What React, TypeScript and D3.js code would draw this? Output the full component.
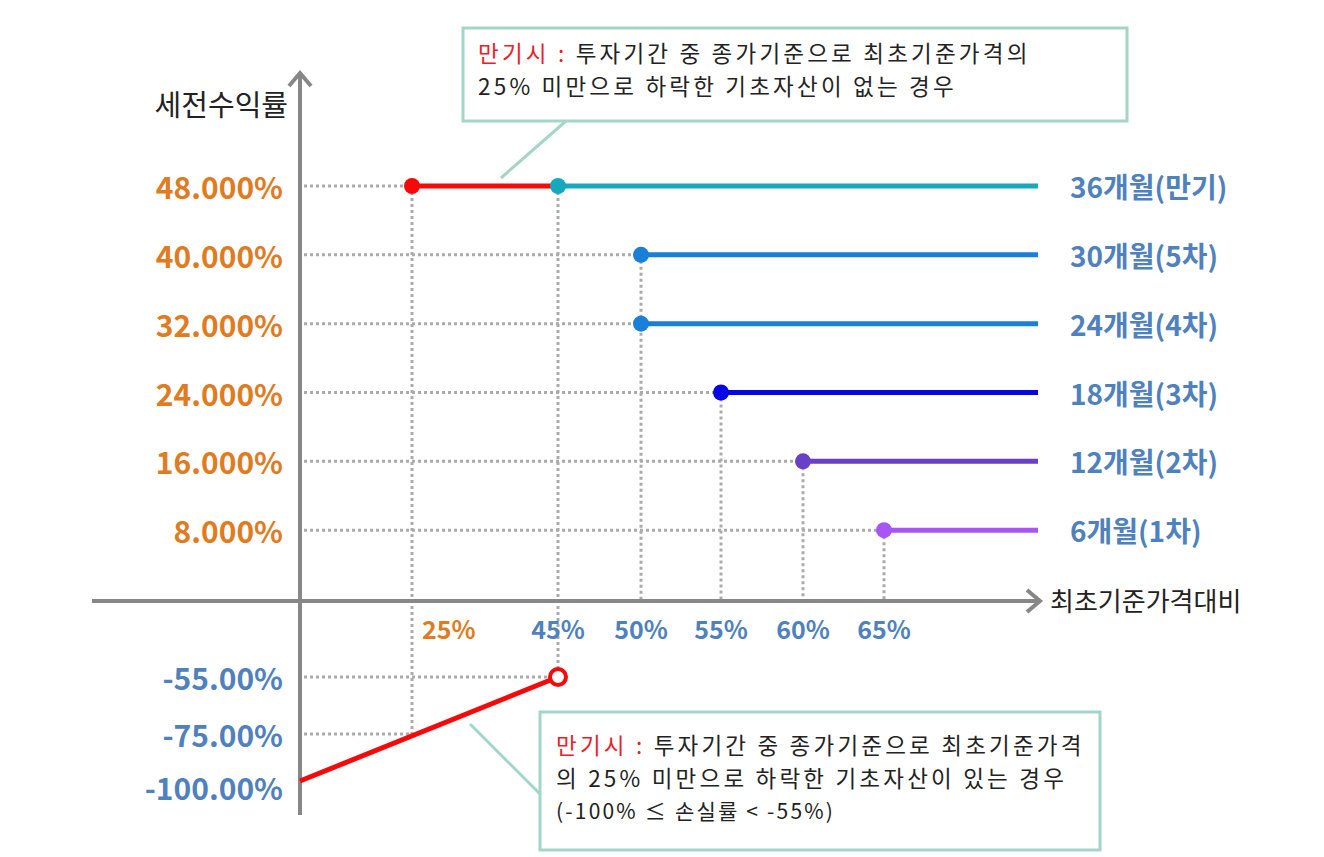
import { scaleLinear, line as d3_line } from "d3";

// redemption schedule (percent of initial reference price / pre-tax return)
const labels = ["6개월(1차)", "12개월(2차)", "18개월(3차)", "24개월(4차)", "30개월(5차)", "36개월(만기)"];
const barriers = [65, 60, 55, 50, 50, 45];
const returns = [8, 16, 24, 32, 40, 48];
const colors = ["#a855f7", "#6a3fc8", "#0505e6", "#1a7fd8", "#1a7fd8", "#16a9bd"];

const xTicks = [25, 45, 50, 55, 60, 65];
const negTicks = [-55, -75, -100];
const kiBarrier = 25;
const lossLine: [number, number][] = [
  [0, -100],
  [45, -55],
];
const lineEnd = 75;

const topNote = ["투자기간 중 종가기준으로 최초기준가격의", "25% 미만으로 하락한 기초자산이 없는 경우"];
const bottomNote = ["투자기간 중 종가기준으로 최초기준가격", "의 25% 미만으로 하락한 기초자산이 있는 경우", "(-100% ≤ 손실률 < -55%)"];

const FONT = "'Noto Sans CJK KR', 'Noto Sans', sans-serif";
const ORANGE = "#e07b22";
const BLUE = "#4f81bd";
const GRID = "#ababab";
const AXIS = "#878787";
const MINT = "#a3d6c8";
const RED = "#f50a0a";

export default function App() {
  // schematic (non-uniform) spacing, as in the source diagram
  const x = scaleLinear()
    .domain([0, 25, 45, 50, 55, 60, 65, 75])
    .range([300, 412, 558, 641, 721, 803, 884, 1038]);
  const y = scaleLinear()
    .domain([-100, -75, -55, 0, 48])
    .range([781, 734, 677, 599, 186]);

  const x0 = x(0);
  const y0 = y(0);
  const loss = d3_line<[number, number]>()
    .x((d) => x(d[0]))
    .y((d) => y(d[1]))(lossLine);

  const dot = { stroke: GRID, strokeWidth: 3, strokeDasharray: "3,3" };

  return (
    <svg
      width={1324}
      height={857}
      style={{ position: "absolute", left: 0, top: 0, background: "#fff" }}
      fontFamily={FONT}
    >
      {/* dotted guides */}
      <g>
        {returns.map((r, i) => (
          <line key={"h" + i} x1={x0 + 4} x2={x(i === 5 ? kiBarrier : barriers[i])} y1={y(r)} y2={y(r)} {...dot} />
        ))}
        {returns.map((r, i) =>
          i === 5 || i === 3 ? null : (
            <line key={"v" + i} x1={x(barriers[i])} x2={x(barriers[i])} y1={y(r)} y2={y0} {...dot} />
          )
        )}
        <line x1={x(kiBarrier)} x2={x(kiBarrier)} y1={y(48)} y2={y(-75)} {...dot} />
        <line x1={x(45)} x2={x(45)} y1={y(48)} y2={y(-55)} {...dot} />
        <line x1={x0 + 4} x2={x(45)} y1={y(-55)} y2={y(-55)} {...dot} />
        <line x1={x0 + 4} x2={x(kiBarrier)} y1={y(-75)} y2={y(-75)} {...dot} />
      </g>

      {/* axes */}
      <g stroke={AXIS} strokeWidth={4} fill="none">
        <line x1={x0} x2={x0} y1={815} y2={72} />
        <polyline points={`${x0 - 11},${86} ${x0},${73} ${x0 + 11},${86}`} />
        <line x1={92} x2={1040} y1={y0 + 2} y2={y0 + 2} />
        <polyline points={`${1027},${y0 - 9} ${1040},${y0 + 2} ${1027},${y0 + 13}`} />
      </g>

      {/* axis titles */}
      <text x={288} y={103} textAnchor="end" dominantBaseline="central" fontSize={29} fill="#222">
        세전수익률
      </text>
      <text x={1050} y={y0} textAnchor="start" dominantBaseline="central" fontSize={26} fill="#222">
        최초기준가격대비
      </text>

      {/* payoff lines */}
      <line x1={x(kiBarrier)} x2={x(45)} y1={y(48)} y2={y(48)} stroke={RED} strokeWidth={5} />
      {returns.map((r, i) => (
        <line key={"l" + i} x1={x(barriers[i])} x2={x(lineEnd)} y1={y(r)} y2={y(r)} stroke={colors[i]} strokeWidth={5} />
      ))}
      <circle cx={x(kiBarrier)} cy={y(48)} r={8} fill={RED} />
      {returns.map((r, i) => (
        <circle key={"c" + i} cx={x(barriers[i])} cy={y(r)} r={8} fill={colors[i]} />
      ))}
      <path d={loss ?? ""} stroke={RED} strokeWidth={5} fill="none" />
      <circle cx={x(45)} cy={y(-55)} r={8} fill="#fff" stroke={RED} strokeWidth={4} />

      {/* y tick labels */}
      {returns.map((r) => (
        <text key={"yt" + r} x={283} y={y(r)} textAnchor="end" dominantBaseline="central" fontSize={30} fontWeight={700} fill={ORANGE}>
          {r.toFixed(3)}%
        </text>
      ))}
      {negTicks.map((r) => (
        <text key={"yn" + r} x={283} y={y(r) + (r === -100 ? 6 : 0)} textAnchor="end" dominantBaseline="central" fontSize={30} fontWeight={700} fill={BLUE}>
          {r.toFixed(2)}%
        </text>
      ))}

      {/* x tick labels */}
      {xTicks.map((t) => (
        <text
          key={"xt" + t}
          x={t === kiBarrier ? x(t) + 10 : x(t)}
          y={628}
          textAnchor={t === kiBarrier ? "start" : "middle"}
          dominantBaseline="central"
          fontSize={25}
          fontWeight={700}
          fill={t === kiBarrier ? ORANGE : BLUE}
        >
          {t}%
        </text>
      ))}

      {/* right-hand labels */}
      {returns.map((r, i) => (
        <text key={"rl" + i} x={1070} y={y(r)} dominantBaseline="central" fontSize={28} fontWeight={700} fill={BLUE}>
          {labels[i]}
        </text>
      ))}

      {/* callout: no knock-in */}
      <line x1={566} y1={121} x2={501} y2={178} stroke={MINT} strokeWidth={3} />
      <rect x={463} y={28} width={664} height={93} fill="#fff" stroke={MINT} strokeWidth={3} />
      <text x={478} y={62} fontSize={22.5} fill="#222" letterSpacing={3.2}>
        <tspan fill="#e8202a">만기시 : </tspan>
        <tspan>{topNote[0]}</tspan>
        <tspan x={478} dy={33}>
          {topNote[1]}
        </tspan>
      </text>

      {/* callout: knock-in */}
      <line x1={470} y1={724} x2={541} y2={795} stroke={MINT} strokeWidth={3} />
      <rect x={540} y={712} width={560} height={138} fill="#fff" stroke={MINT} strokeWidth={3} />
      <text x={556} y={754} fontSize={22.5} fill="#222" letterSpacing={3.2}>
        <tspan fill="#e8202a">만기시 : </tspan>
        <tspan>{bottomNote[0]}</tspan>
        <tspan x={556} dy={33}>
          {bottomNote[1]}
        </tspan>
        <tspan x={556} dy={32} fontSize={21} letterSpacing={2.2}>
          {bottomNote[2]}
        </tspan>
      </text>
    </svg>
  );
}
